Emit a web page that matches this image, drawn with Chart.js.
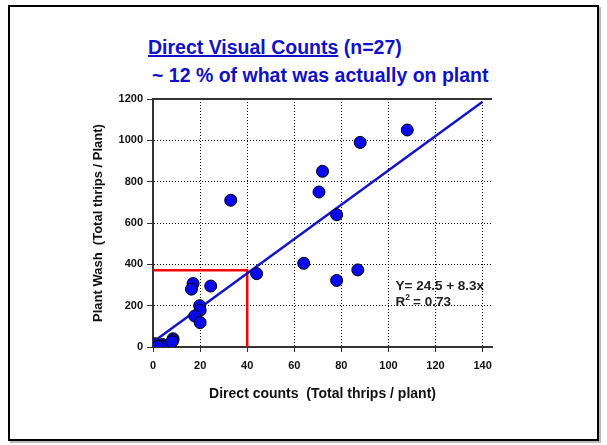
<!DOCTYPE html>
<html lang="en">
<head>
  <meta charset="UTF-8">
  <title>Direct Visual Counts</title>
  <script src="https://cdn.jsdelivr.net/npm/chart.js@4.4.0/dist/chart.umd.min.js"></script>
  <style>
    html, body { margin: 0; padding: 0; background: #fff; }
    body { width: 607px; height: 445px; position: relative; overflow: hidden; font-family: "Liberation Sans", Arial, sans-serif; }
    .frame { position: absolute; left: 8px; top: 5px; width: 587px; height: 432px; border: 2px solid #000; box-shadow: 2px 2px 0 #bbb; }
    .title { position: absolute; color: #1010cc; font-weight: bold; font-size: 19.5px; white-space: nowrap; }
    #t1 { left: 148px; top: 36px; }
    #t1 u { text-decoration-thickness: 2px; }
    #t2 { left: 152px; top: 64px; }
    #wrap { position: absolute; left: 0; top: 0; width: 607px; height: 445px; }
  </style>
</head>
<body>
  <div class="frame"></div>
  <div class="title" id="t1"><u>Direct Visual Counts</u> (n=27)</div>
  <div class="title" id="t2">~ 12 % of what was actually on plant</div>
  <div id="wrap"><canvas id="chart" width="607" height="445"></canvas></div>

  <script>
    // direct counts vs plant wash
    const directCounts = [108, 88, 72, 70.5, 33, 78, 64, 87, 44, 78, 17, 16.3, 24.5, 19.8, 20, 17.7, 20, 8.5, 8.4, 7.5, 4, 1.8, 0.7, 3, 6, 2, 8];
    const plantWash    = [1050, 990, 850, 750, 710, 640, 405, 373, 355, 322, 307, 280, 295, 200, 178, 150, 118, 40, 32, 12, 12, 10, 16, 5, 8, 3, 25];

    // fitted line Y = a + b x
    const fitA = 24.5;
    const fitB = 8.3;
    const fitX = [0, 140];

    // red guide: 40 counts -> ~370 per plant
    const guideX = [0, 40, 40];
    const guideY = [371, 371, 0];

    const xTicks = [0, 20, 40, 60, 80, 100, 120, 140];
    const yTicks = [0, 200, 400, 600, 800, 1000, 1200];

    const FONT = "'Liberation Sans', Arial, sans-serif";

    const points = directCounts.map((x, i) => ({ x: x, y: plantWash[i] }));
    const fitLine = fitX.map(x => ({ x: x, y: fitA + fitB * x }));
    const guide = guideX.map((x, i) => ({ x: x, y: guideY[i] }));

    // equation text + top border line
    const extras = {
      id: 'extras',
      afterDraw(chart) {
        const ctx = chart.ctx;
        const a = chart.chartArea;
        const xs = chart.scales.x, ys = chart.scales.y;
        ctx.save();
        ctx.strokeStyle = '#333';
        ctx.lineWidth = 2;
        ctx.beginPath();
        ctx.moveTo(a.left - 1, a.top);
        ctx.lineTo(a.right, a.top);
        ctx.stroke();

        ctx.fillStyle = '#222';
        ctx.font = 'bold 13.5px ' + FONT;
        ctx.textBaseline = 'alphabetic';
        const tx = xs.getPixelForValue(103);
        ctx.fillText('Y= 24.5 + 8.3x', tx, ys.getPixelForValue(275));
        const ry = ys.getPixelForValue(197);
        ctx.fillText('R', tx, ry);
        const rw = ctx.measureText('R').width;
        ctx.font = 'bold 8.5px ' + FONT;
        ctx.fillText('2', tx + rw, ry - 6);
        ctx.font = 'bold 13.5px ' + FONT;
        ctx.fillText(' = 0.73', tx + rw + 4, ry);
        ctx.restore();
      }
    };

    new Chart(document.getElementById('chart'), {
      type: 'scatter',
      data: {
        datasets: [
          {
            label: 'guide',
            data: guide,
            showLine: true,
            borderColor: '#ff0000',
            borderWidth: 2.5,
            pointRadius: 0,
            fill: false,
            order: 3
          },
          {
            label: 'fit',
            data: fitLine,
            showLine: true,
            borderColor: '#1414c8',
            borderWidth: 2.5,
            pointRadius: 0,
            fill: false,
            order: 2
          },
          {
            label: 'counts',
            data: points,
            backgroundColor: '#0808f0',
            borderColor: '#000',
            borderWidth: 1,
            pointRadius: 6,
            order: 1
          }
        ]
      },
      options: {
        responsive: false,
        animation: false,
        layout: { padding: { top: 99, left: 87, right: 115, bottom: 38 } },
        plugins: {
          legend: { display: false },
          tooltip: { enabled: false }
        },
        scales: {
          x: {
            type: 'linear',
            min: 0,
            max: 144,
            afterBuildTicks: s => { s.ticks = xTicks.map(v => ({ value: v })); },
            ticks: {
              color: '#111',
              font: { family: FONT, size: 11, weight: 'bold' },
              padding: 7,
              maxRotation: 0,
              callback: v => String(v)
            },
            grid: {
              color: '#000',
              lineWidth: 1,
              tickColor: '#333',
              tickBorderDash: [],
              tickLength: 5
            },
            border: { display: true, color: '#333', width: 2, dash: [1, 2] },
            title: {
              display: true,
              text: 'Direct counts  (Total thrips / plant)',
              color: '#111',
              font: { family: FONT, size: 14, weight: 'bold' },
              padding: { top: 7 }
            }
          },
          y: {
            type: 'linear',
            min: 0,
            max: 1200,
            afterBuildTicks: s => { s.ticks = yTicks.map(v => ({ value: v })); },
            ticks: {
              color: '#111',
              font: { family: FONT, size: 11, weight: 'bold' },
              padding: 4,
              callback: v => String(v)
            },
            grid: {
              color: '#000',
              lineWidth: 1,
              tickColor: '#333',
              tickBorderDash: [],
              tickLength: 6
            },
            border: { display: true, color: '#333', width: 2, dash: [1, 2] },
            title: {
              display: true,
              text: 'Plant Wash  (Total thrips / Plant)',
              color: '#111',
              font: { family: FONT, size: 13, weight: 'bold' },
              padding: { bottom: 8 }
            }
          }
        }
      },
      plugins: [extras]
    });
  </script>
</body>
</html>
